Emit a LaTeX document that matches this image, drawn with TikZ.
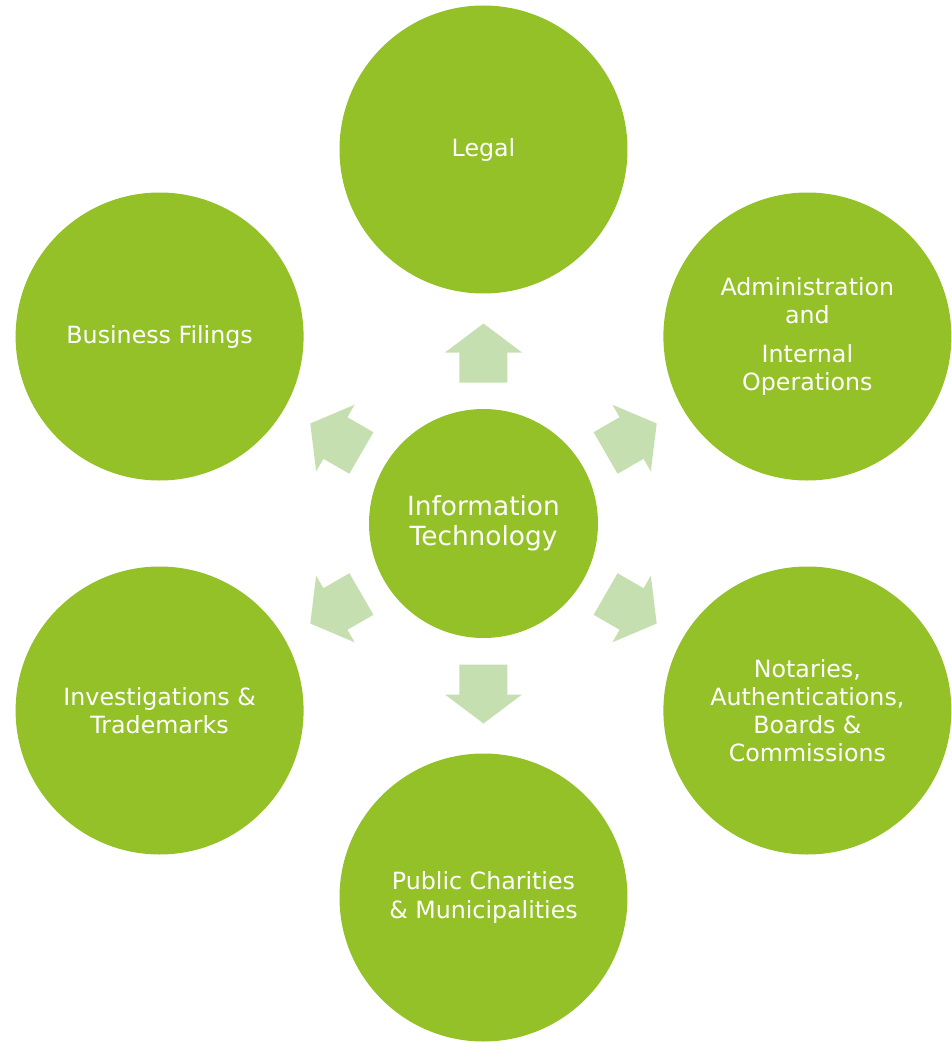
\documentclass[tikz,border=0pt]{standalone}
\usepackage{fontspec}
\setmainfont{DejaVu Sans}
\usetikzlibrary{positioning}

\definecolor{limegreen}{HTML}{93C127}
\definecolor{palegreen}{HTML}{C6DFB0}

\tikzset{
  unit/.style={circle,fill=limegreen,text=white,align=center,inner sep=0pt,
    font=\fontsize{13.5}{16}\selectfont},
  outer/.style={unit,minimum size=288*0.02cm},
  hub/.style={unit,minimum size=229*0.02cm,font=\fontsize{15}{17}\selectfont},
  pointer/.style={fill=palegreen}
}

\begin{document}
\begin{tikzpicture}[x=0.02cm,y=0.02cm]
  \useasboundingbox (-483.5,-518.5) rectangle (467.5,523.5);
  % centre
  \node[hub] (it) at (0,0) {Information\\Technology};
  % ring of units
  \node[outer] (legal) at (90:374) {Legal};
  \node[outer] (admin) at (30:374) {Administration\\and\\[6pt]Internal\\Operations};
  \node[outer] (notary) at (-30:374) {Notaries,\\Authentications,\\Boards \&\\Commissions};
  \node[outer] (charity) at (-90:374) {Public Charities\\\& Municipalities};
  \node[outer] (invest) at (-150:374) {Investigations \&\\Trademarks};
  \node[outer] (business) at (150:374) {Business Filings};
  % block arrows pointing outward
  \foreach \a in {90,30,-30,-90,-150,150}{
    \fill[pointer,shift={(it.center)},rotate=\a] (141,-24) -- (171,-24) -- (171,-38.5) -- (200,0) -- (171,38.5) -- (171,24) -- (141,24) -- cycle;}
\end{tikzpicture}
\end{document}
